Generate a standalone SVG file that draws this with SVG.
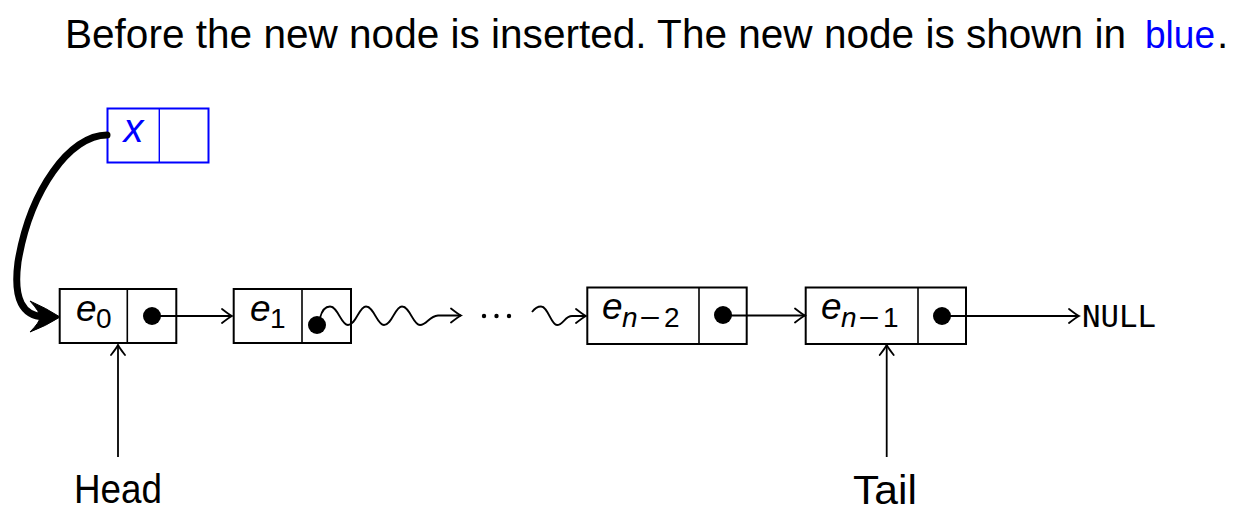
<svg xmlns="http://www.w3.org/2000/svg" width="1236" height="532" viewBox="0 0 1236 532">
<defs>
<style>
.box{fill:#fff;stroke:#000;stroke-width:2}
.div{stroke:#000;stroke-width:1.6}
.bbox{fill:#fff;stroke:#0000ff;stroke-width:2}
.bdiv{stroke:#0000ff;stroke-width:1.4}
.conn{fill:none;stroke:#000;stroke-width:1.8}
.math{font-family:"Liberation Sans",Arial,sans-serif;font-style:italic;fill:#000}
.sub{font-family:"Liberation Sans",Arial,sans-serif;fill:#000}
.txt{font-family:"Liberation Sans",Arial,sans-serif;fill:#000}
.mono{font-family:"DejaVu Sans Mono",monospace;fill:#000}
</style>
<marker id="arr" markerUnits="userSpaceOnUse" viewBox="-12 -9 14 18" refX="0" refY="0" markerWidth="14" markerHeight="18" orient="auto">
<path d="M-10,-7 Q-3,-1.5 0,0 Q-3,1.5 -10,7" fill="none" stroke="#000" stroke-width="1.8" stroke-linecap="round"/>
</marker>
<marker id="arrs" markerUnits="userSpaceOnUse" viewBox="-8 -6 10 12" refX="0" refY="0" markerWidth="10" markerHeight="12" orient="auto">
<path d="M-6,-4 Q-2,-1 0,0 Q-2,1 -6,4" fill="none" stroke="#000" stroke-width="1.4" stroke-linecap="round"/>
</marker>
</defs>
<rect width="1236" height="532" fill="#fff"/>

<g id="title">
<text class="txt" x="65" y="48" font-size="40.5" textLength="1061" lengthAdjust="spacingAndGlyphs">Before the new node is inserted. The new node is shown in</text>
<text x="1145" y="48" font-size="38" textLength="70" lengthAdjust="spacingAndGlyphs" font-family="Liberation Sans,Arial,sans-serif" fill="#0000ff">blue</text>
<text class="txt" x="1217" y="48" font-size="40.5">.</text>
</g>

<g id="node-x">
<rect class="bbox" x="107.5" y="108.5" width="101" height="54"/>
<line class="bdiv" x1="159.3" y1="108.5" x2="159.3" y2="162.5"/>
<text x="133.5" y="142" font-size="40" text-anchor="middle" font-family="Liberation Sans,Arial,sans-serif" font-style="italic" fill="#0000ff">x</text>
</g>

<g id="node-e0">
<rect class="box" x="59.7" y="289" width="116.6" height="54"/>
<line class="div" x1="127.3" y1="289" x2="127.3" y2="343"/>
<text class="math" x="76" y="321" font-size="37">e</text>
<text class="sub" x="96" y="328" font-size="28">0</text>
<circle cx="152" cy="316" r="9"/>
</g>

<g id="node-e1">
<rect class="box" x="233.7" y="289" width="117.3" height="54"/>
<line class="div" x1="302" y1="289" x2="302" y2="343"/>
<text class="math" x="250" y="321" font-size="37">e</text>
<text class="sub" x="270" y="328" font-size="28">1</text>
<circle cx="317" cy="325" r="9"/>
</g>

<g id="node-en2">
<rect class="box" x="587.3" y="287.5" width="159.4" height="56.5"/>
<line class="div" x1="699" y1="287.5" x2="699" y2="344"/>
<text class="math" x="602" y="319" font-size="37">e</text>
<text class="math" x="622" y="327" font-size="28">n</text>
<text class="sub" x="639.5" y="327" font-size="28" textLength="21" lengthAdjust="spacingAndGlyphs">−</text>
<text class="sub" x="664" y="327" font-size="28">2</text>
<circle cx="723" cy="315" r="9"/>
</g>

<g id="node-en1">
<rect class="box" x="805.7" y="287.5" width="160.3" height="56.5"/>
<line class="div" x1="918" y1="287.5" x2="918" y2="344"/>
<text class="math" x="821" y="319" font-size="37">e</text>
<text class="math" x="841" y="327" font-size="28">n</text>
<text class="sub" x="858.5" y="327" font-size="28" textLength="21" lengthAdjust="spacingAndGlyphs">−</text>
<text class="sub" x="883" y="327" font-size="28">1</text>
<circle cx="942" cy="316" r="9"/>
</g>

<g id="ellipsis">
<circle cx="484" cy="316" r="2.2"/>
<circle cx="496.5" cy="316" r="2.2"/>
<circle cx="509" cy="316" r="2.2"/>
</g>

<g id="label-null">
<text class="mono" x="1082" y="327" font-size="30" textLength="74" lengthAdjust="spacingAndGlyphs">NULL</text>
</g>
<g id="label-head">
<text class="txt" x="74" y="503" font-size="41" textLength="88" lengthAdjust="spacingAndGlyphs">Head</text>
</g>
<g id="label-tail">
<text class="txt" x="853" y="504" font-size="41" textLength="64" lengthAdjust="spacingAndGlyphs">Tail</text>
</g>

<g id="connectors">
<path d="M107,135 C70,135 30,190 18,262 C13,300 23,316 44,317" fill="none" stroke="#000" stroke-width="7" stroke-linecap="round"/>
<path d="M60,317 Q46,308 30,301 Q40,312 40,317 Q40,322 30,332 Q46,326 60,317 Z" fill="#000" stroke="#000" stroke-width="1" stroke-linejoin="round"/>
<line class="conn" x1="152" y1="316" x2="232" y2="316" marker-end="url(#arr)"/>
<path class="conn" d="M320,318 C322,310 325,306.5 330,306.5 C338,306.5 341,325 348,325 C356,325 359,306.5 366,306.5 C374,306.5 377,325 384,325 C392,325 395,306.5 402,306.5 C410,306.5 413,325 420,325 C427,325 429,316 438,315.5 L461,315.5" marker-end="url(#arr)" marker-start="url(#arrs)" stroke-width="1.6"/>
<path class="conn" d="M532,312 C535,308 537,306.5 541,306.5 C548,306.5 551,325 557,325 C563,325 565,316 572,316 L586,316" marker-end="url(#arr)" stroke-width="1.6"/>
<line class="conn" x1="723" y1="315.5" x2="805" y2="315.5" marker-end="url(#arr)"/>
<line class="conn" x1="942" y1="316" x2="1079" y2="316" marker-end="url(#arr)"/>
<line class="conn" x1="118" y1="457" x2="118" y2="345" marker-end="url(#arr)"/>
<line class="conn" x1="886.7" y1="457" x2="886.7" y2="345" marker-end="url(#arr)" stroke-width="1.5"/>
</g>
</svg>
